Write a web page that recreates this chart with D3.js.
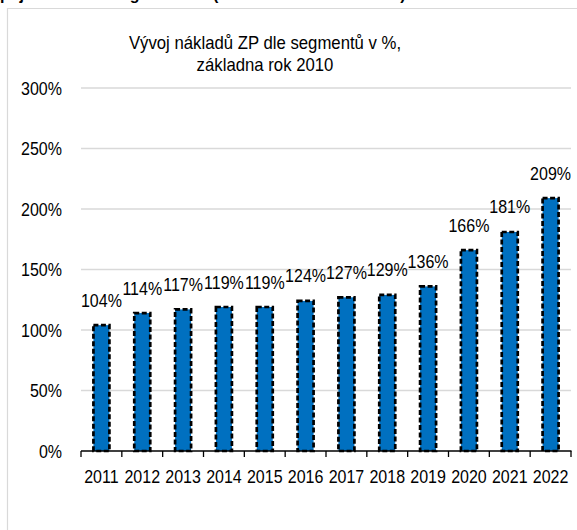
<!DOCTYPE html>
<html>
<head>
<meta charset="utf-8">
<script src="https://cdn.jsdelivr.net/npm/d3@7"></script>
<style>
  body { margin: 0; background: #fff; }
  text { font-family: "Liberation Sans", Arial, sans-serif; }
</style>
</head>
<body>
<script>
// data
var years = ["2011", "2012", "2013", "2014", "2015", "2016", "2017", "2018", "2019", "2020", "2021", "2022"];
var values = [104, 114, 117, 119, 119, 124, 127, 129, 136, 166, 181, 209];
var yTicks = [0, 50, 100, 150, 200, 250, 300];
var titleLines = ["Vývoj nákladů ZP dle segmentů v %,", "základna rok 2010"];

var width = 577, height = 530;

var svg = d3.select("body").append("svg")
    .attr("width", width)
    .attr("height", height);

// the chart font is a narrow one, so squeeze a bigger size sideways
function place(x, y, sx) {
    return "translate(" + x + "," + y + ") scale(" + (sx || 0.89) + ",1)";
}

// heading above the chart box, mostly cut off
var head = svg.append("text")
    .attr("y", -0.5)
    .style("font-weight", "bold")
    .style("font-size", "16px")
    .attr("fill", "#000");
head.append("tspan").attr("x", 0).text("pojištěnců dle segmentů");
head.append("tspan").attr("x", 213).text("(základna rok 2010 = 100)");

// chart box border
svg.append("path")
    .attr("d", "M7.5,530 L7.5,8.5 L577,8.5")
    .attr("fill", "none")
    .attr("stroke", "#d9d9d9")
    .attr("stroke-width", 1.2);

var x = d3.scaleBand()
    .domain(years)
    .range([81, 571])
    .paddingInner(0.6)
    .paddingOuter(0.3);

var y = d3.scaleLinear()
    .domain([0, 300])
    .range([451, 88]);

// title
svg.append("g").selectAll("text")
    .data(titleLines)
    .enter().append("text")
    .attr("transform", function(d, i) { return place(265, 49 + i * 22, 0.93); })
    .attr("text-anchor", "middle")
    .style("font-size", "18px")
    .attr("fill", "#000")
    .text(function(d) { return d; });

// gridlines
svg.append("g").selectAll("line")
    .data(yTicks.filter(function(t) { return t > 0; }))
    .enter().append("line")
    .attr("x1", 81)
    .attr("x2", 571)
    .attr("y1", function(d) { return y(d); })
    .attr("y2", function(d) { return y(d); })
    .attr("stroke", "#d9d9d9")
    .attr("stroke-width", 1.5);

// y axis labels
svg.append("g").selectAll("text")
    .data(yTicks)
    .enter().append("text")
    .attr("transform", function(d) { return place(62, y(d) + 6.5); })
    .attr("text-anchor", "end")
    .style("font-size", "18px")
    .attr("fill", "#000")
    .text(function(d) { return d + "%"; });

// bars
svg.append("g").selectAll("rect")
    .data(values)
    .enter().append("rect")
    .attr("x", function(d, i) { return x(years[i]) + x.bandwidth() / 2 - 8; })
    .attr("width", 16)
    .attr("y", function(d) { return y(d); })
    .attr("height", function(d) { return y(0) - y(d); })
    .attr("fill", "#0070c0")
    .attr("stroke", "#000")
    .attr("stroke-width", 2.7)
    .attr("stroke-dasharray", "5,2.5");

// data labels
svg.append("g").selectAll("text")
    .data(values)
    .enter().append("text")
    .attr("transform", function(d, i) { return place(x(years[i]) + x.bandwidth() / 2, y(d) - 18.5); })
    .attr("text-anchor", "middle")
    .style("font-size", "18px")
    .attr("fill", "#000")
    .text(function(d) { return d + "%"; });

// x axis
var step = (571 - 81) / years.length;
var xAxis = svg.append("g");
xAxis.append("line")
    .attr("x1", 81).attr("x2", 571.5)
    .attr("y1", y(0)).attr("y2", y(0))
    .attr("stroke", "#000").attr("stroke-width", 1.3);
xAxis.selectAll(".tick")
    .data(d3.range(years.length + 1))
    .enter().append("line")
    .attr("x1", function(i) { return 81 + i * step; })
    .attr("x2", function(i) { return 81 + i * step; })
    .attr("y1", y(0))
    .attr("y2", y(0) + 6)
    .attr("stroke", "#000").attr("stroke-width", 1.3);
xAxis.selectAll("text")
    .data(years)
    .enter().append("text")
    .attr("transform", function(d) { return place(x(d) + x.bandwidth() / 2, 483); })
    .attr("text-anchor", "middle")
    .style("font-size", "18px")
    .attr("fill", "#000")
    .text(function(d) { return d; });
</script>
</body>
</html>
